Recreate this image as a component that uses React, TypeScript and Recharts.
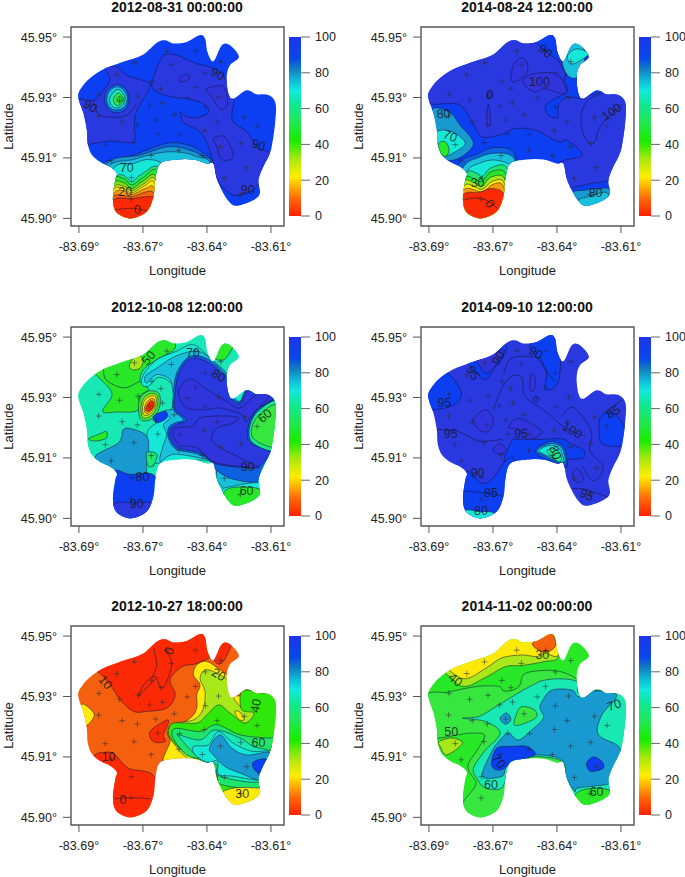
import { ScatterChart, Scatter, XAxis, YAxis, ReferenceArea, ComposedChart, Bar } from "recharts";

// positions are millidegrees east of -83.69 and north of 45.90
type Fill = [number, number[][]];
type Note = [number, number, string, number];

const lonTicks = [0, 25, 50, 75];
const lonLabels = ["-83.69°", "-83.67°", "-83.64°", "-83.61°"];
const latTicks = [0, 15, 30, 45];
const latLabels = ["45.90°", "45.91°", "45.93°", "45.95°"];
const barTicks = [0, 20, 40, 60, 80, 100];

const levelColors: Record<number, string> = {
  5: "#fb2a04", 10: "#f5600e", 15: "#f99a0c", 20: "#ffe908", 25: "#e2e80a", 30: "#a8e81a", 35: "#80e018",
  40: "#2ee80c", 45: "#28e828", 50: "#38e640", 55: "#1fe66a", 60: "#1ae68c", 65: "#18e8b4", 70: "#16e8d8",
  75: "#18c0dc", 80: "#1899d0", 85: "#0d60e0", 90: "#0c3ef2", 95: "#2a38e0", 100: "#3034dc",
};

const rampStops: [number, string][] = [
  [0, "#ff2000"], [10, "#ff6a08"], [22, "#ffee00"], [32, "#a8e810"], [42, "#18ec00"], [52, "#20e850"],
  [62, "#10e890"], [70, "#10eadc"], [76, "#10b8d8"], [82, "#1080c0"], [88, "#0a48e8"], [100, "#1c34ec"],
];

const outline = [
  [0, 31.4], [3.4, 34.3], [8.3, 36.6], [13.5, 38], [19.4, 39.3], [25.2, 40.7], [30.4, 43.6], [33.7, 44.2],
  [36.9, 43.4], [42.1, 43.8], [47.3, 45.5], [49.3, 44.6], [50.2, 41.3], [52.5, 39], [55.8, 43], [59, 43],
  [62.5, 40.1], [59, 38], [57.7, 35.1], [58.4, 31], [60.3, 29.7], [65.5, 31.8], [69.4, 30.8], [74, 30.6],
  [76.8, 28.5], [76.6, 23.5], [75.3, 17.8], [74, 15.3], [72, 12.8], [70.1, 9.5], [70.7, 6.2], [68.1, 4.5],
  [61.6, 3.1], [58.4, 4.3], [55.8, 7], [53.8, 9.9], [52.5, 13.6], [49.9, 13.6], [44.7, 14.6], [38.2, 14.6],
  [31.7, 13.6], [29.8, 9.5], [29.1, 5.4], [26.5, 1.7], [20.7, 0], [16.1, 0.8], [13.8, 2.5], [13.3, 5.4],
  [14.2, 9.5], [14.8, 11.2], [12.2, 12.8], [8.3, 14], [5.1, 15.7], [3.4, 18.6], [3.1, 21.9], [1.8, 26], [0, 29.3],
];

const stations = [
  [21.7, 38.6], [34.3, 41.5], [45.6, 41.5], [55.4, 38.9], [14.8, 35.7], [36.1, 38.2], [49.4, 36.1], [28.5, 34],
  [32, 32.2], [45.5, 32.5], [7.8, 30.8], [23.1, 30.3], [42.3, 29.9], [54.5, 30.1], [15.9, 29.3], [7.7, 25.4],
  [27.6, 27.9], [32.6, 28.6], [49.4, 27.7], [37.2, 25.7], [64.6, 25.1], [16.9, 24], [22.8, 23.2], [30, 24.4],
  [54, 24], [69.6, 22.8], [30.8, 20.9], [39.3, 20.8], [49, 21.8], [10.3, 18.3], [21.5, 18.8], [63.2, 18.6],
  [55.3, 17.7], [28.2, 15.6], [39, 16.9], [48.2, 15.6], [12.6, 14.3], [65.5, 12.6], [20.5, 10.1], [56.8, 9.9],
  [63, 5.9], [20.4, 4.8],
];

const p1Fills: Fill[] = [
  [90, outline],
  [95, [[10.3, 37.2], [14.8, 37.6], [18.7, 35.5], [26.5, 33.9], [27.6, 32.5], [22.4, 26.4], [21.6, 22.7], [21.3, 19], [12.2, 19.2], [4.4, 18.4], [2.5, 18.4], [0.5, 26], [-1.4, 29.6], [5.7, 29.3], [9.6, 31.8], [12.2, 34.7]]],
  [95, [[28.5, 33.5], [31.7, 39.2], [33.7, 40.7], [38.2, 40.5], [46, 38.4], [52.5, 37.2], [57.7, 34.3], [59, 30.1], [60.6, 29.3], [59.9, 24.4], [65.5, 21.5], [70.1, 17.3], [74.4, 16.3], [73.3, 12], [70.1, 8.3], [66.2, 6.4], [60.3, 5.8], [54.5, 9.1], [52.5, 13.6], [50.6, 17.8], [47.3, 21.5], [41.1, 23.7], [39.5, 26.4], [41.5, 25.4], [46, 25], [50.6, 26.3], [48.9, 28.3], [43.4, 29.6], [36.9, 30.1], [30.4, 31.4]]],
  [100, [[49.9, 32.1], [56.4, 32.7], [58, 28.4], [55.2, 27.1], [51.9, 30.1]]],
  [100, [[52.5, 19.8], [57.1, 20.2], [60.3, 15.3], [55.8, 14.6], [53.8, 17.8]]],
  [100, [[38.9, 34.4], [41.5, 35.8], [43.4, 34.9], [40.8, 33.9]]],
  [85, [[7, 12.8], [21.3, 15.7], [35, 18.7], [44.1, 17.9], [49.3, 15.9], [52.5, 13.4], [49.9, 7.8], [21.3, -1.5], [7, 4.5]]],
  [80, [[11, 13.6], [23.9, 15.7], [35, 17.8], [43.4, 16.9], [48.6, 15.3], [51.5, 13.8], [49, 5], [21, -1.5], [8, 3]]],
  [75, [[11.6, 12.8], [21.3, 14.6], [27.2, 15.7], [34.3, 16.5], [40.8, 16.3], [46, 15.3], [51.2, 13.6], [49, 5], [21, -1.5], [8, 3]]],
  [70, [[13.5, 12.4], [21.3, 13.6], [26.5, 14.6], [31.7, 13.9], [30.4, 12], [21, -1.5], [10, 2]]],
  [55, [[14.2, 9.9], [17.4, 10.7], [20.7, 9.1], [23.9, 10.7], [31.1, 12.6], [31, 2], [21, -1.5], [10, 2]]],
  [45, [[13.3, 9.3], [17.4, 9.9], [20.7, 8.3], [24.6, 9.9], [30.7, 11.6], [31, -1.5], [10, -1.5]]],
  [35, [[13.3, 8.3], [17.4, 8.9], [20.7, 7.4], [24.6, 9.1], [30.1, 10.3], [31, -1.5], [10, -1.5]]],
  [25, [[13.3, 7.4], [17.4, 8], [20.7, 6.8], [25.2, 8.5], [29.8, 9.5], [31, -1.5], [10, -1.5]]],
  [20, [[13.3, 6.9], [17.4, 7.4], [20.7, 6.3], [25.5, 8], [29.5, 8.7], [31, -1.5], [10, -1.5]]],
  [15, [[13.3, 6], [17.4, 6.9], [20.7, 5.9], [25.9, 7.4], [29.5, 7.4], [31, -1.5], [10, -1.5]]],
  [10, [[13.3, 5.4], [20.7, 5.4], [26.5, 6.6], [29.5, 5.8], [31, -1.5], [10, -1.5]]],
  [5, [[13.3, 4.5], [20.7, 4.9], [27.8, 5.4], [30, 4.5], [31, -1.5], [10, -1.5]]],
  [85, [[9.9, 30.1], [11.6, 32.2], [15.1, 33.3], [18.5, 32], [19.6, 29.5], [18.1, 27], [14.2, 26.2], [10.9, 27.5]]],
  [75, [[10.9, 30], [12.2, 31.8], [15.1, 32.7], [17.8, 31.6], [18.9, 29.5], [17.5, 27.5], [14.2, 26.9], [11.6, 27.9]]],
  [65, [[12, 29.7], [13.2, 31.1], [15.3, 32], [17.1, 31.1], [18, 29.5], [16.8, 28], [14.4, 27.4], [12.5, 28.3]]],
  [50, [[13.5, 29.5], [14.2, 30.5], [15.6, 31.1], [16.9, 30.3], [17.5, 29.5], [16.6, 28.5], [14.9, 28], [13.8, 28.7]]],
  [45, [[14.8, 29.5], [15.9, 30.3], [16.9, 29.5], [15.9, 28.7]]],
];
const p1Lines = [
  [[5.7, 29.3], [8.3, 25.6], [18.1, 25.4], [22.4, 28.4]],
  [[13.9, 2.1], [20.7, 2.5], [26.5, 1.9]],
];
const p1Notes: Note[] = [
  [4.4, 27.8, "90", 35], [54.1, 35.8, "90", 30], [70.1, 18.2, "90", 20], [65.9, 7, "90", 0],
  [18.7, 12.4, "70", 0], [18.1, 6.6, "20", 0], [22.9, 2.1, "0", 0],
];

const p2Fills: Fill[] = [
  [90, outline],
  [95, [[-1.4, 29], [11.6, 28.3], [16.8, 24], [20.7, 20.2], [28.5, 20.9], [33.7, 22.3], [41.5, 21.9], [50.6, 19], [53.8, 19.4], [59.9, 15.7], [50.6, 13.6], [53.2, 7.8], [57.1, 7.8], [63.6, 8.7], [71.4, 9.5], [79.5, 12.8], [79.5, 33.5], [61, 31], [50.6, 45.8], [19.4, 45.8], [-1.4, 37.6]]],
  [90, [[53.2, 35.3], [61, 35], [61, 30], [53.8, 30.1], [50.6, 28], [50.2, 25], [46.7, 25.6], [45.4, 27.7], [48, 29.3], [53.8, 31.5]]],
  [90, [[42.1, 43.8], [48, 46.7], [51.9, 39.6], [50.6, 39.2]]],
  [100, [[36.7, 33.9], [40.2, 35.8], [49.9, 35.8], [53.8, 31.4], [50.6, 31.1], [45.4, 32.2], [40.8, 31.5]]],
  [100, [[32.4, 33.9], [33, 38], [36.3, 39.9], [38.6, 38], [37.6, 35.5]]],
  [100, [[22.6, 25.7], [23.3, 28.4], [23.9, 25.7], [24, 23.2], [23, 23]]],
  [100, [[22.6, 30.6], [24, 31.6], [24.8, 30.5], [23.5, 29.7]]],
  [80, [[1.8, 27.3], [8.3, 26.2], [12.2, 23.1], [17.4, 18.6], [12.2, 15.1], [6.4, 14.5], [-0.1, 16.9], [-0.8, 22.7]]],
  [70, [[3.1, 21.5], [9, 21.5], [14.2, 18.6], [9, 16.1], [5.7, 15.5], [2.5, 17.8]]],
  [45, [[3.8, 18.6], [6.4, 19], [7.9, 16.9], [6.4, 15.3], [4.4, 16.5]]],
  [85, [[11.6, 13.6], [18.7, 15.9], [24.5, 17.5], [31.7, 17.1], [34.3, 13.6], [32.4, 7.8], [19.4, -1.5], [6.4, 4.5]]],
  [75, [[13.5, 12.8], [19.4, 15.1], [24.5, 16.1], [31.1, 15.9], [33.7, 13.6], [31.1, 7.8], [19.4, -1.5], [9, 4.5]]],
  [70, [[14.8, 11.6], [19.4, 13.6], [25.2, 14.5], [31.1, 13.6], [33, 12.4], [31, 4], [19.4, -1.5], [10, 4]]],
  [55, [[14.2, 10.7], [18.7, 11.2], [20.7, 10.3], [24.5, 12.6], [30.8, 12], [31, -1.5], [10, -1.5]]],
  [45, [[13.9, 9.5], [17.4, 9.9], [20.7, 9.1], [24.5, 11.6], [30.2, 10.7], [31, -1.5], [10, -1.5]]],
  [30, [[13.5, 8.7], [17.4, 8.9], [20.7, 8], [24.5, 10.3], [29.8, 9.5], [31, -1.5], [10, -1.5]]],
  [20, [[13.5, 7.7], [17.4, 8], [20.7, 7.2], [25.2, 9.3], [29.5, 8.5], [31, -1.5], [10, -1.5]]],
  [15, [[13.5, 7], [20.7, 6.6], [25.2, 8.5], [29.2, 7.8], [31, -1.5], [10, -1.5]]],
  [5, [[13.3, 5.8], [19.4, 6.4], [24.5, 7.4], [29.5, 5.8], [31, -1.5], [10, -1.5]]],
  [75, [[52.1, 38.7], [54.5, 35.3], [58.4, 35.3], [61, 40.5], [58.4, 43.8], [53.2, 43]]],
  [70, [[54.2, 40.5], [57.7, 42.1], [62.3, 40.9], [58.4, 38.9], [55.2, 38.4]]],
  [80, [[55.8, 6.2], [60.9, 7], [66.2, 7.4], [71.4, 6.9], [72.7, 1.2], [55.8, 1.2]]],
  [75, [[58.4, 4.5], [62.3, 5.4], [69.4, 6.4], [70.1, 2.9], [60.9, 2.5]]],
];
const p2Lines = [
  [[50.6, 39.2], [53.8, 35.3]],
  [[62.9, 18.3], [60.3, 21], [59.4, 25.2], [61.6, 29], [67.5, 31]],
  [[62.9, 18.3], [64.9, 19], [66.4, 22.3], [70, 25.2], [75.3, 28.3]],
  [[13.9, 4.7], [20, 5], [24.5, 3.7], [27.2, 2.2]],
];
const p2Notes: Note[] = [
  [45.4, 41.5, "90", 40], [43.2, 33.9, "100", 0], [23.7, 30.7, "0", 0], [5.7, 25.9, "80", -5], [8.3, 20.4, "70", 20],
  [19, 8.8, "30", 0], [23.7, 3.6, "0", 60], [65.1, 6.4, "80", 0], [71.4, 26.4, "100", -35],
];

const p3Fills: Fill[] = [
  [65, outline],
  [45, [[6, 36.3], [12.9, 31.1], [9.2, 26.6], [14.8, 26.4], [22.9, 26.8], [23.7, 30.3], [27.2, 32], [23.9, 34], [25.2, 36.9], [30.4, 39.4], [37.6, 42.3], [34.3, 45.6], [23.9, 43.9], [8.3, 38.6]]],
  [30, [[19.8, 38.2], [22.6, 40.6], [25, 39.4], [23.9, 37.3], [20.7, 36.9]]],
  [45, [[3.8, 19.8], [8.3, 21], [10.7, 21.6], [10.7, 19.9], [6.4, 19.2]]],
  [45, [[52.5, 40.2], [55.8, 43.5], [60.3, 43.1], [56.7, 39.4]]],
  [70, [[25.2, 35.7], [30.4, 39.4], [38.2, 41.5], [44.7, 43.1], [51.2, 39.8], [59, 34.9], [59, 30.3], [65.5, 32], [74.6, 31.1], [77.2, 30.7], [68.1, 26.2], [66.2, 22.5], [66.8, 18.3], [77.2, 16.7], [74.6, 12.6], [70.7, 8.4], [60.3, 6.8], [56.4, 5.9], [53.2, 9.3], [52.5, 14.2], [31.7, 13.8], [28.9, 13], [26.5, 15.9], [26.5, 20.4], [27.8, 22.5], [33, 24.9], [36.9, 28.2], [38.2, 31.6], [34.3, 34.4], [30.4, 34.9], [27.2, 32.8], [24.6, 33.2]]],
  [80, [[6.4, 15.4], [15.5, 18.8], [17.4, 22.1], [21.3, 22.1], [26.5, 20.4], [27.2, 16.7], [26.5, 13.4], [25.2, 10.9], [14.2, 10.9], [10.9, 12.6]]],
  [55, [[26.5, 16.3], [30.4, 16], [29.4, 13.4], [27, 13]]],
  [75, [[26.5, 33.6], [25.9, 35.3], [30.4, 37.3], [37.6, 40.2], [46, 41.5], [51.9, 39.4], [59.7, 34.4], [60.3, 30.7], [62.9, 29.1], [66.2, 32.4], [74.4, 31.3], [77.9, 29.9], [70.1, 26.2], [68.1, 23.3], [68.1, 19.6], [75.9, 17.9], [75.3, 15], [73.3, 10.1], [70.7, 6.8], [60.3, 6.8], [57.7, 6.8], [53.8, 9.7], [53.6, 13.8], [47.3, 15], [36.9, 15.9], [31.7, 14.2], [33, 18.3], [34.3, 20.8], [33, 23.3], [35.6, 24.9], [33, 26.6], [38.2, 27.4], [36.9, 30.7], [35.6, 34.4], [30.4, 35.7]]],
  [85, [[38.2, 36.1], [43.4, 40.2], [51.2, 39.2], [59, 34.2], [59.3, 30.7], [62.9, 28.9], [66.2, 32.4], [74, 31.4], [76.6, 29.7], [70.1, 26.2], [67.5, 22.5], [67.7, 19.2], [74.9, 17.5], [74, 14.6], [71.1, 9.3], [60.3, 9.7], [53.8, 11.9], [51.9, 13.8], [46.7, 15.9], [38.2, 17.1], [35, 19.8], [35, 22.5], [37.6, 23.7], [40.8, 24.5], [36.9, 27], [36.9, 30.7]]],
  [95, [[38.9, 35.7], [43.4, 39.6], [50.6, 38.6], [58.4, 33.9], [58.8, 30.3], [62.9, 28.4], [66.2, 31.8], [73.3, 31], [75.9, 29.7], [69.4, 26.8], [66.2, 22.9], [66.8, 18.8], [74.6, 16.7], [73.3, 15], [69.7, 12.6], [64.9, 12.6], [57.7, 13], [52.5, 13.8], [47.3, 16.3], [38.9, 17.5], [35.6, 20], [35.6, 22.1], [38.2, 23.3], [42.1, 24.5], [37.6, 27], [37.6, 30.7]]],
  [100, [[36.9, 22.1], [44.1, 22.9], [47.3, 24.9], [53.8, 25.4], [61.9, 25.1], [60.3, 23.7], [53.8, 22.3], [52.5, 18.8], [65.5, 14.2], [69.4, 12.6], [53.8, 13.8], [46, 17.5], [38.9, 18.3]]],
  [100, [[38.9, 31.1], [41.5, 34], [44.7, 34.4], [49.9, 32], [57.7, 29.1], [62.9, 27.4], [69.4, 30.7], [74.6, 30.7], [69.4, 27], [65.5, 24.1], [63.6, 25.8], [55.1, 27.4], [49.9, 27], [42.1, 27.4]]],
  [60, [[67.1, 19.3], [68.4, 25.4], [77.2, 29.2], [77.9, 22.5], [77.2, 16.7]]],
  [50, [[67.7, 20.2], [69.2, 24.8], [77, 28.2], [77.9, 22.5], [77, 19.2], [74.9, 17.7]]],
  [70, [[55.8, 6.8], [60.3, 8], [70.7, 8.8], [72, 5.9], [59, 2.6]]],
  [45, [[56.7, 6.6], [62.9, 7.8], [71.4, 6.9], [70.1, 2.6], [59, 2.6]]],
  [90, [[12.9, 11.1], [20, 10.9], [30, 10.2], [30.4, -0.7], [12.2, -0.7]]],
  [95, [[13.5, 3.5], [21.3, 3.9], [28.5, 3.6], [26.5, -0.7], [13.5, -0.7]]],
  [50, [[23.3, 26.6], [23.9, 29.9], [27.2, 31.6], [31.1, 31.1], [31.7, 28.2], [29.1, 24.9], [24.6, 24.3]]],
  [30, [[24.2, 27], [25, 29.5], [27.6, 30.9], [30.4, 30.6], [30.7, 28.2], [28.5, 25.6], [25.2, 24.9]]],
  [20, [[24.8, 27], [25.6, 29.2], [27.8, 30.3], [30, 30.1], [30, 28.1], [28, 26], [25.6, 25.6]]],
  [15, [[25.5, 27], [26.3, 28.7], [28, 29.7], [29.5, 29.5], [29.4, 27.8], [27.7, 26.4], [26.3, 26]]],
  [5, [[26.1, 27], [26.8, 28.2], [28, 29.1], [29, 28.9], [28.9, 27.6], [27.4, 26.6]]],
  [90, [[29.1, 25.4], [33.7, 26.6], [34.3, 24.9], [30.4, 23.7]]],
];
const p3Lines = [
  [[9.6, 37.6], [10.6, 34.4], [17.5, 32.4], [23.7, 34]],
  [[71.4, 27.8], [76.2, 29.5]],
];
const p3Notes: Note[] = [
  [27.2, 39.8, "50", -50], [44.5, 41, "70", 0], [54.5, 35.4, "80", 30], [72.7, 25.4, "60", -40],
  [65.8, 12.7, "90", 0], [24.8, 10.2, "80", 0], [65.5, 6.8, "60", 0], [22.6, 3.5, "90", 0],
];

const p4Fills: Fill[] = [
  [95, outline],
  [90, [[-1.4, 32.4], [6.1, 36.3], [12.2, 32], [11.6, 29.1], [6.4, 27.4], [-1.4, 27.4]]],
  [90, [[14.8, 39.8], [18.7, 41.5], [29.1, 43.1], [29.8, 41.1], [25.2, 36.9], [22, 34.4], [18.7, 36.1], [16.1, 37.7]]],
  [90, [[39.5, 43.1], [46.7, 47.2], [51.2, 44.8], [50.6, 34], [45.4, 32], [46, 36.5], [42.8, 39.4]]],
  [90, [[32.4, 19.2], [35, 19.6], [44.1, 19.6], [51.9, 19.8], [55.8, 18.3], [60.3, 17.1], [60.3, 15], [54.5, 14.6], [53.2, 12.6], [42.1, 13.4], [29.8, 13.4]]],
  [90, [[14.2, 11.3], [20.7, 8.7], [25.2, 10.1], [30.4, 14.6], [33.7, 13.4], [32.4, -0.7], [11.6, -0.7]]],
  [90, [[66.8, 24.9], [71.4, 26.4], [76.6, 22.5], [76.6, 18.2], [68.1, 18.3], [66.6, 20.8]]],
  [85, [[41.5, 16.7], [44.1, 18.3], [48.6, 19.2], [52.5, 17.9], [53.8, 15], [53.2, 13.2], [48, 14.2], [43.4, 15.4]]],
  [75, [[42.1, 16.7], [44.4, 17.9], [48.6, 18.6], [51.9, 17.5], [53.2, 15], [52.5, 13.8], [48, 14.7], [44.1, 15.9]]],
  [70, [[43, 16.7], [45, 17.7], [48.6, 18.1], [51.2, 17], [52.5, 15], [51.9, 13.9], [48, 15.1], [44.8, 16]]],
  [60, [[46, 16.7], [48.6, 17.3], [50.6, 16.7], [51.9, 14.8], [50.6, 14], [48.6, 15.1]]],
  [70, [[14.2, 2], [19.4, 1.7], [25.2, 1.4], [25.2, -0.7], [19.4, -0.7], [15, -0.7]]],
  [100, [[18.3, 40.8], [28.2, 41.9], [29.1, 41.1], [25.2, 37.3], [22, 36.1], [20, 37.7]]],
  [100, [[17.4, 24.5], [22, 27], [25.2, 24.5], [23.3, 21.6], [19.4, 22.1]]],
  [100, [[25.2, 17.3], [27.8, 18.5], [30.4, 16.7], [27.8, 16], [25.9, 16.3]]],
  [100, [[31.1, 22.5], [35, 24.8], [44.1, 21.6], [38.9, 19.6], [35, 22.1]]],
  [100, [[56.4, 11.7], [58.4, 12.1], [60.3, 10.1], [58.4, 8.8], [56.4, 10.1]]],
  [100, [[39.5, 32], [39.9, 35.7], [41.5, 34.9], [41.2, 32]]],
  [100, [[40.8, 29.7], [42.1, 30.3], [42.8, 29.2], [41.5, 28.9]]],
];
const p4Lines = [
  [[25.2, 27], [28.5, 32.4], [32.4, 35.3], [36.3, 34.9], [37.6, 30.3], [45.4, 26.6], [53.2, 22.5], [61, 20.4]],
  [[51.9, 25.4], [55.8, 27.6], [61, 24.5], [63.6, 20.8], [62.9, 16.7], [68.1, 12.6], [64.2, 9.3], [59.9, 13]],
  [[29.1, 35.7], [32.4, 39.8], [42.8, 39.8], [45.4, 36.9], [49.3, 34]],
  [[13.5, 6.8], [24.6, 6.1], [28.5, 5.5]],
  [[55.8, 7.4], [61, 7.2], [71.4, 5]],
  [[70, 27], [75.9, 29.5]],
  [[2.5, 22.1], [11.6, 21.5], [19.4, 19.2], [28.5, 19.6]],
];
const p4Notes: Note[] = [
  [6.1, 28.6, "95", 0], [17.2, 36.1, "95", 60], [27.2, 39.8, "90", -60], [41.7, 41.1, "90", 30], [36, 21, "95", 0],
  [8.5, 21, "95", 0], [56, 21.8, "100", 30], [19, 11.2, "90", 0], [24.2, 6.4, "85", 0], [20.3, 1.8, "80", 0],
  [61.6, 5.8, "95", 25], [72, 26.4, "85", -30], [49.3, 16.3, "80", 70],
];

const p5Fills: Fill[] = [
  [10, outline],
  [5, [[7, 36.3], [12.2, 32.9], [16.1, 29.2], [21.3, 26.3], [26.5, 26.3], [34.3, 27.1], [37.6, 30.4], [35.6, 34.1], [40.2, 37.4], [46, 38.2], [52.5, 41.1], [47.3, 47.4], [30.4, 46.1], [8.3, 42], [0.5, 37.8]]],
  [5, [[52.5, 40.3], [55.8, 43.6], [59.8, 43.6], [56.4, 38.7], [53.8, 38.3]]],
  [5, [[5.7, 15.1], [10.9, 16.2], [14.2, 15.5], [19.4, 12.2], [29.8, 9.9], [33, -1.5], [10.9, -1.5], [5.7, 9.7]]],
  [5, [[27.8, 21.3], [33.7, 24], [35, 23.6], [33, 20.5], [33.7, 18.8], [29.1, 18.8]]],
  [20, [[0.5, 27.5], [2.5, 27.9], [6, 25.4], [2.9, 22.8], [-0.1, 23.4]]],
  [20, [[33, 13.5], [35.6, 18.8], [35, 21.3], [43.4, 24.6], [46, 27.1], [46, 30.4], [47.3, 32.9], [44.7, 35.4], [46, 37.8], [49.9, 38.7], [55.1, 36.6], [59, 34.5], [59, 30.4], [62.9, 29.6], [64.2, 24.6], [52.5, 13.1], [42.1, 13.1]]],
  [30, [[44.7, 24.2], [48.4, 26.7], [49.3, 31.2], [47.3, 34.4], [49.3, 36.6], [53.8, 35.8], [59, 33.5], [59.3, 30.4], [63.2, 29.7], [66.2, 32], [77.9, 31.2], [78.5, 14.7], [70.7, 3.1], [55.1, 4.8], [53.2, 13.1], [47.3, 13.9], [42.1, 14.7], [35.6, 19.7], [35, 22.1], [38.2, 23.4]]],
  [20, [[60.3, 29.9], [63.4, 29.9], [63.2, 27.5]]],
  [40, [[35, 21.3], [36.9, 23.4], [46, 23.4], [49.9, 25.4], [54.5, 27.9], [59, 25.9], [64.9, 23.4], [68.4, 25.9], [63.6, 26.7], [63.2, 30.8], [66.2, 31.6], [72, 30.8], [77.9, 31.2], [78.5, 14.7], [70.7, 4.8], [55.1, 5.6], [53.8, 12.2], [47.3, 13.9], [40.8, 16.4], [36.3, 19.2]]],
  [20, [[60.9, 26.3], [62.9, 26.1], [64.5, 24.2], [62.3, 24.4]]],
  [55, [[36.3, 20.9], [38.2, 22.1], [47.3, 21.3], [53.8, 23], [62.9, 20.5], [73.3, 19.7], [76.6, 19.7], [74.6, 16.4], [73.3, 11.4], [70.7, 7.3], [55.8, 8.1], [53.8, 10.6], [49.3, 13.9], [42.1, 15.5], [37.6, 18.8]]],
  [65, [[38.9, 20.5], [47.3, 19.2], [53.2, 21.7], [62.9, 19.7], [68.1, 17.6], [74.6, 16.5], [74.6, 14.7], [71.4, 8.9], [55.1, 10.2], [53.8, 13.1], [48.6, 13.9], [44.1, 16.4], [39.5, 19.7]]],
  [70, [[44.7, 17.6], [50.6, 18], [54.5, 21.3], [60.3, 18.4], [67.5, 16.4], [74.1, 16.4], [74.1, 14.3], [69.4, 11.4], [71.4, 9.2], [60.3, 10.2], [54.5, 10.7], [54.1, 13.9], [49.9, 13.7], [45.4, 15.5]]],
  [80, [[51, 17.2], [55.1, 20.5], [59.7, 17.2], [65.5, 15.5], [74.1, 16.2], [74.1, 14.3], [69.4, 12.6], [70.5, 9.3], [62.9, 11], [57.1, 12.6], [52.5, 15.5]]],
  [90, [[67.9, 13.5], [70.1, 14.3], [73.3, 14.3], [70.7, 11], [68.2, 12.2]]],
  [20, [[55.8, 6], [61, 7.3], [69.4, 7.3], [72, 6.9], [69.4, 2.3], [55.8, 2.3]]],
];
const p5Lines = [
  [[23.3, 30], [25.2, 32.9], [28.5, 34.7], [30.4, 34.7], [31.7, 32.3], [33.7, 32.9], [36.3, 38.2], [33.7, 41.5]],
  [[29.1, 42.1], [30.4, 37.8], [28.5, 34.7]],
  [[23.3, 30], [26.5, 32.2], [30.4, 34.7]],
  [[14, 4.6], [20, 4.9], [28, 4.6]],
];
const p5Notes: Note[] = [
  [35.4, 41.3, "0", -70], [10.3, 33.5, "10", 50], [11.6, 15, "10", 0], [17.2, 4.4, "0", 0],
  [54.5, 35.4, "20", 30], [69.2, 27.7, "40", -80], [70.1, 18.4, "60", 0], [63.8, 5.9, "30", 0],
];

const p6Fills: Fill[] = [
  [45, outline],
  [50, [[-1.4, 30], [7.7, 31.1], [18.7, 32.5], [27.2, 32.5], [29.1, 31.4], [33, 31.6], [35.6, 32.9], [36.9, 35.4], [41.5, 36.3], [50.6, 36.3], [58.4, 33.9], [61, 29.6], [79.2, 31.2], [79.2, 3.1], [58.4, -1.5], [14.2, -1.5], [12.9, 3.1], [18.3, 8.1], [15.7, 11.4], [15.5, 13.5], [19.4, 17.2], [21.7, 20.5], [15.7, 20.9], [11.6, 20.5], [3.8, 19.7], [-1.4, 19.7]]],
  [30, [[6.4, 35.8], [13.5, 32.5], [22, 34.7], [29.8, 37.4], [36.3, 37.7], [45.4, 38.7], [50.6, 39.9], [50.6, 47.4], [19.4, 47.4], [-0.1, 39.5]]],
  [20, [[6.4, 37.4], [13.9, 34.4], [22.6, 37.2], [28.5, 39.6], [36.3, 40.3], [42.1, 39.9], [45.4, 40.7], [50.6, 40.3], [50.6, 47.4], [19.4, 47.4], [2.5, 40.3]]],
  [10, [[40.4, 43.2], [45.4, 45.4], [48.2, 45.7], [49.5, 42.8], [46.7, 41.1], [43.4, 41.3]]],
  [30, [[4, 18.8], [9, 19.7], [13.1, 18.4], [7, 15.5], [4.4, 17.6]]],
  [65, [[13.1, 24.6], [19.4, 25], [25.2, 27.1], [31.1, 29.4], [36.3, 31.4], [40.8, 32.9], [44.1, 33.9], [50.6, 34.4], [57.7, 33.7], [58.4, 30.8], [64.2, 31.6], [71.4, 30.8], [77.9, 30.4], [77.9, 16.4], [71.4, 6.4], [57.1, 5.5], [53.2, 9.7], [51.9, 13.9], [42.1, 15.1], [35, 14.3], [31.1, 12.2], [28.5, 7.3], [22, 7.3], [18.7, 9.7], [17.4, 12.2], [21.7, 16.4], [27.8, 20.9], [22, 23.8]]],
  [50, [[36.3, 27.5], [41.2, 26.7], [41.5, 24.6], [33.7, 22.8], [34.3, 25.8]]],
  [80, [[44.1, 28.7], [48, 31.6], [55.8, 31.6], [58.4, 30], [63.6, 31.4], [73.3, 30.4], [67.5, 25.4], [66.2, 20.5], [74.6, 17.2], [73.3, 11.4], [71.4, 8.5], [58.4, 7.3], [57.1, 6.4], [53.8, 9.7], [51.9, 14.3], [42.1, 15.5], [36.3, 14.3], [30.4, 12.6], [28.5, 10.2], [20.9, 10.2], [24.6, 16.4], [27.8, 19.2], [31.1, 20.9], [35, 19.2], [40.2, 21.7], [44.7, 24.6], [43.4, 27.1]]],
  [80, [[27.8, 24.6], [30.4, 25.9], [32, 24.2], [29.8, 23.1]]],
  [90, [[24.5, 13.9], [26.5, 17.2], [32.4, 17.6], [38.2, 17.6], [41.5, 15.7], [36.3, 14.3], [32.4, 13.9], [28.5, 11.8], [25.2, 12.2]]],
  [90, [[61.6, 13.5], [64.2, 15], [67.5, 13.9], [68.1, 12.2], [64.2, 11.4], [62.3, 11.8]]],
  [45, [[57.1, 5.6], [62.3, 7.1], [70.7, 6.6], [71.4, 2.3], [57.1, 2.3]]],
];
const p6Lines: number[][][] = [];
const p6Notes: Note[] = [
  [44.3, 40.3, "30", 0], [10.3, 34.1, "40", 40], [8.7, 21.1, "50", 0], [27.2, 13.9, "70", 50],
  [24.2, 8.1, "60", 0], [65.5, 6.4, "60", 0], [72.4, 27.8, "70", -20],
];

const titles = [
  "2012-08-31 00:00:00", "2014-08-24 12:00:00", "2012-10-08 12:00:00",
  "2014-09-10 12:00:00", "2012-10-27 18:00:00", "2014-11-02 00:00:00",
];
const panelFills = [p1Fills, p2Fills, p3Fills, p4Fills, p5Fills, p6Fills];
const panelLines = [p1Lines, p2Lines, p3Lines, p4Lines, p5Lines, p6Lines];
const panelNotes = [p1Notes, p2Notes, p3Notes, p4Notes, p5Notes, p6Notes];

const FONT = "'Liberation Sans', Arial, sans-serif";
const lonDomain = [-3.1, 80.1];
const latDomain = [-1.9, 47.5];

const toPoints = (pts: number[][]) => pts.map(([x, y]) => ({ x, y }));

// closed or open Catmull-Rom through the scaled points
function smoothPath(pts: { x: number; y: number }[], closed: boolean) {
  const n = pts.length;
  const at = (i: number) => (closed ? pts[(i + n) % n] : pts[Math.max(0, Math.min(n - 1, i))]);
  let d = `M${pts[0].x},${pts[0].y}`;
  const last = closed ? n : n - 1;
  for (let i = 0; i < last; i++) {
    const p0 = at(i - 1);
    const p1 = at(i);
    const p2 = at(i + 1);
    const p3 = at(i + 2);
    d += `C${p1.x + (p2.x - p0.x) / 6},${p1.y + (p2.y - p0.y) / 6} ${p2.x - (p3.x - p1.x) / 6},${p2.y - (p3.y - p1.y) / 6} ${p2.x},${p2.y}`;
  }
  return closed ? d + "Z" : d;
}

const NoMark = () => <g />;

const StationMark = (props: any) => (
  <path d={`M${props.cx - 3},${props.cy}H${props.cx + 3}M${props.cx},${props.cy - 3}V${props.cy + 3}`} stroke="#2a2a3a" strokeOpacity={0.65} strokeWidth={0.8} fill="none" />
);

const NoteMark = (props: any) => (
  <text x={props.cx} y={props.cy} fontSize={12.5} fontFamily={FONT} fill="#1a1a1a" fillOpacity={0.85} textAnchor="middle" dominantBaseline="central" transform={`rotate(${props.payload.angle} ${props.cx} ${props.cy})`}>
    {props.payload.text}
  </text>
);

function Panel({ index, left, top }: { index: number; left: number; top: number }) {
  const clipId = `outline-${index}`;
  const notes = panelNotes[index].map(([x, y, text, angle]) => ({ x, y, text, angle }));
  return (
    <div style={{ position: "absolute", left, top }}>
      <ScatterChart width={335} height={285} margin={{ top: 27, right: 51, bottom: 0, left: 0 }}>
        <XAxis
          type="number"
          dataKey="x"
          domain={lonDomain}
          allowDataOverflow
          ticks={lonTicks}
          interval={0}
          tickFormatter={(v: number) => lonLabels[lonTicks.indexOf(v)]}
          tick={{ fontSize: 12.5, fill: "#222", fontFamily: FONT }}
          tickSize={7}
          tickMargin={9}
          stroke="#555"
          axisLine={false}
          height={59}
          label={{ value: "Longitude", position: "insideBottom", offset: 10, fontSize: 13, fill: "#222", fontFamily: FONT }}
        />
        <YAxis
          type="number"
          dataKey="y"
          domain={latDomain}
          allowDataOverflow
          ticks={latTicks}
          interval={0}
          tickFormatter={(v: number) => latLabels[latTicks.indexOf(v)]}
          tick={{ fontSize: 12.5, fill: "#222", fontFamily: FONT }}
          tickSize={8}
          tickMargin={6}
          stroke="#555"
          axisLine={false}
          width={71}
          label={{ value: "Latitude", angle: -90, position: "insideLeft", offset: 8, fontSize: 13, fill: "#222", fontFamily: FONT, style: { textAnchor: "middle" } }}
        />
        {panelFills[index].map(([level, pts], i) => (
          <Scatter
            key={`fill-${i}`}
            data={toPoints(pts)}
            isAnimationActive={false}
            shape={NoMark}
            line={(p: any) => {
              const d = smoothPath(p.points, true);
              if (i === 0) {
                return (
                  <g key="base">
                    <defs>
                      <clipPath id={clipId}>
                        <path d={d} />
                      </clipPath>
                    </defs>
                    <path d={d} fill={levelColors[level]} />
                  </g>
                );
              }
              return <path key="band" d={d} fill={levelColors[level]} stroke="#15153a" strokeOpacity={0.75} strokeWidth={0.7} clipPath={`url(#${clipId})`} />;
            }}
          />
        ))}
        {panelLines[index].map((pts, i) => (
          <Scatter
            key={`line-${i}`}
            data={toPoints(pts)}
            isAnimationActive={false}
            shape={NoMark}
            line={(p: any) => <path key="contour" d={smoothPath(p.points, false)} fill="none" stroke="#15153a" strokeOpacity={0.8} strokeWidth={0.7} clipPath={`url(#${clipId})`} />}
          />
        ))}
        <Scatter data={toPoints(stations)} isAnimationActive={false} shape={StationMark} />
        <Scatter data={notes} isAnimationActive={false} shape={NoteMark} />
        <ReferenceArea x1={lonDomain[0]} x2={lonDomain[1]} y1={latDomain[0]} y2={latDomain[1]} fill="none" stroke="#555" strokeWidth={1.4} ifOverflow="visible" />
      </ScatterChart>
      <div style={{ position: "absolute", left: 0, top: -1, width: 354, textAlign: "center", fontFamily: FONT, fontWeight: 700, fontSize: 14, color: "#111", whiteSpace: "nowrap" }}>
        {titles[index]}
      </div>
      <div style={{ position: "absolute", left: 289, top: 29 }}>
        <ComposedChart width={60} height={195} data={[{ name: "ramp", top: 100 }]} margin={{ top: 8, right: 0, bottom: 8, left: 0 }} barCategoryGap={0}>
          <defs>
            <linearGradient id={`ramp-${index}`} x1="0" y1="1" x2="0" y2="0">
              {rampStops.map(([v, c]) => (
                <stop key={v} offset={`${v}%`} stopColor={c} />
              ))}
            </linearGradient>
          </defs>
          <XAxis dataKey="name" hide />
          <YAxis
            orientation="right"
            domain={[0, 100]}
            ticks={barTicks}
            interval={0}
            width={48}
            axisLine={false}
            tickSize={9}
            tickMargin={5}
            stroke="#666"
            tick={{ fontSize: 12.5, fill: "#222", fontFamily: FONT }}
            allowDataOverflow
          />
          <Bar dataKey="top" fill={`url(#ramp-${index})`} isAnimationActive={false} />
        </ComposedChart>
      </div>
    </div>
  );
}

export default function App() {
  const lefts = [0, 350];
  const tops = [0, 300, 599];
  return (
    <div style={{ position: "absolute", left: 0, top: 0, width: 685, height: 877, background: "#fff", overflow: "hidden" }}>
      {tops.map((top, row) =>
        lefts.map((left, col) => <Panel key={`${row}-${col}`} index={row * 2 + col} left={left} top={top} />)
      )}
    </div>
  );
}
